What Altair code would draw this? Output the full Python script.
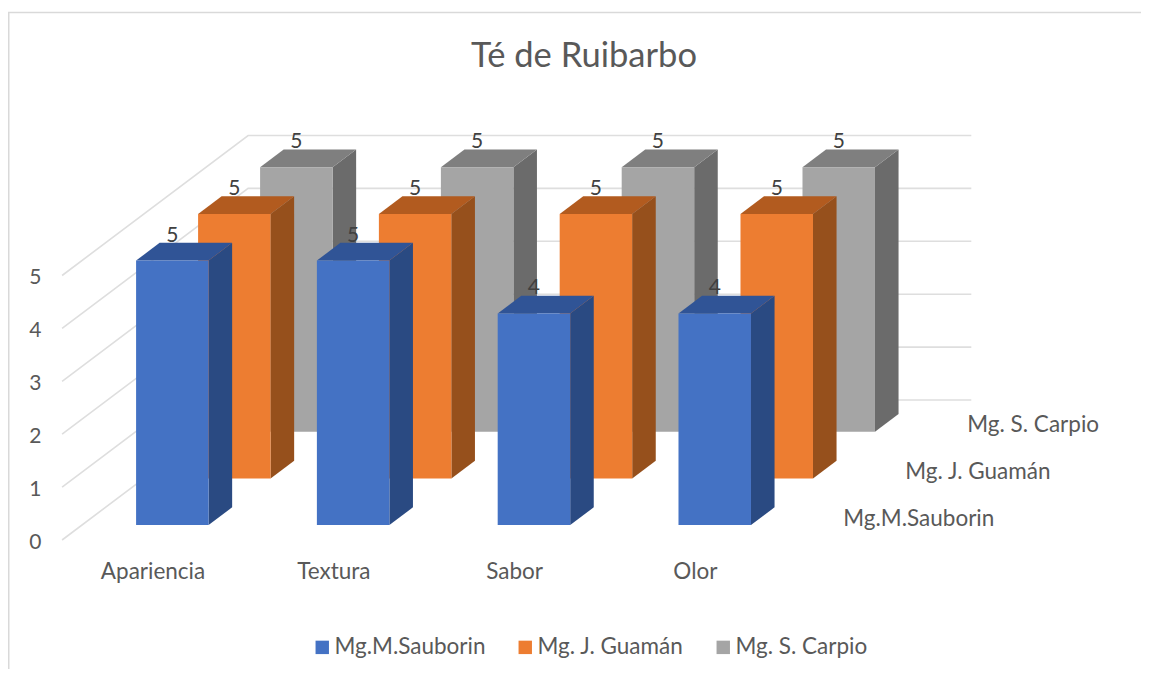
import altair as alt
import pandas as pd

# ---- chart values ----
categories = ["Apariencia", "Textura", "Sabor", "Olor"]
series = ["Mg.M.Sauborin", "Mg. J. Guamán", "Mg. S. Carpio"]
values_sauborin = [5, 5, 4, 4]
values_guaman = [5, 5, 5, 5]
values_carpio = [5, 5, 5, 5]
value_ticks = [0, 1, 2, 3, 4, 5]
front_colors = ["#4472C4", "#ED7D31", "#A5A5A5"]
side_colors = ["#2A4A82", "#96501C", "#6B6B6B"]
top_colors = ["#305496", "#B25B1F", "#7F7F7F"]
series_values = [values_sauborin, values_guaman, values_carpio]

# ---- oblique projection: depth z moves a point right and up ----
W, H = 1133, 661
PX_CAT, PX_VAL = 180.8, 52.9
ORIGIN_X, ORIGIN_Y = 152.5 - 8, 540.0 - 8
ZX, ZY = 62.0 / PX_CAT, 46.67 / PX_VAL
Z0, ZD, HW = 0.32, 0.38, 36.25 / PX_CAT


def px(c, z):
    return c + z * ZX


def py(v, z):
    return v + z * ZY


xs = alt.Scale(domain=[-ORIGIN_X / PX_CAT, (W - ORIGIN_X) / PX_CAT], range=[0, W], nice=False, zero=False)
ys = alt.Scale(domain=[(ORIGIN_Y - H) / PX_VAL, ORIGIN_Y / PX_VAL], range=[H, 0], nice=False, zero=False)
TEXT = "#595959"
FONT = "Lato"
x_axis = alt.Axis(
    title=None, values=[0, 1, 2, 3], grid=False, domain=False, ticks=False,
    labelExpr="['Apariencia','Textura','Sabor','Olor'][datum.value]",
    labelFontSize=22.5, labelColor=TEXT, labelFont=FONT, offset=-113,
    labelPadding=4, labelOverlap=False, labelBound=False, labelFlush=False,
)
y_axis = alt.Axis(
    title=None, values=value_ticks, grid=False, domain=False, ticks=False,
    labelFontSize=21, labelColor=TEXT, labelFont=FONT, offset=-34,
    labelPadding=1, labelOverlap=False, format="d", labelOffset=2,
)
X = alt.X("x:Q", scale=xs, axis=x_axis)
Y = alt.Y("y:Q", scale=ys, axis=y_axis)

# ---- gridlines ----
grid_rows = []
for v in value_ticks:
    for k, (c, z) in enumerate([(-0.5, 0), (-0.5, 3), (3.5, 3)]):
        grid_rows.append({"v": v, "k": k, "x": px(c, z), "y": py(v, z)})
grid = (
    alt.Chart(pd.DataFrame(grid_rows))
    .mark_line(color="#DEDEDE", strokeWidth=1.6)
    .encode(x=X, y=Y, detail="v:N", order="k:Q")
)

# ---- chart frame (top and left edges) ----
frame_top = alt.Chart(pd.DataFrame({"a": [0]})).mark_rule(color="#D9D9D9", strokeWidth=1.5).encode(
    x=alt.value(0), x2=alt.value(W), y=alt.value(4.5))
frame_left = alt.Chart(pd.DataFrame({"a": [0]})).mark_rule(color="#D9D9D9", strokeWidth=2).encode(
    x=alt.value(0.5), y=alt.value(4), y2=alt.value(H))

# ---- bars, back series first ----
layers = [grid, frame_top, frame_left]
color = alt.Color(
    "series:N",
    scale=alt.Scale(domain=series, range=front_colors),
    legend=alt.Legend(
        title=None, orient="none", legendX=303, legendY=628, direction="horizontal",
        symbolType="square", symbolSize=180, symbolStrokeWidth=0, labelFontSize=22.5,
        labelColor=TEXT, labelFont=FONT, labelOffset=1, columnPadding=28, padding=0,
        labelLimit=300,
    ),
)
for j in reversed(range(len(series))):
    z1 = Z0 + j
    z2 = z1 + ZD
    side, top, front = [], [], []
    for i, v in enumerate(series_values[j]):
        front.append({"series": series[j], "x": px(i, z1) - HW, "x2": px(i, z1) + HW,
                      "y": py(0, z1), "y2": py(v, z1)})
        for z in (z1, z2):
            side.append({"b": i, "x": px(i, z) + HW, "y": py(0, z), "y2": py(v, z)})
            top.append({"b": i, "y": py(v, z), "x": px(i, z) - HW, "x2": px(i, z) + HW})
    layers.append(
        alt.Chart(pd.DataFrame(side)).mark_area(color=side_colors[j], orient="vertical").encode(
            x=X, y=alt.Y("y:Q", scale=ys, axis=y_axis, stack=None), y2="y2:Q", detail="b:N")
    )
    layers.append(
        alt.Chart(pd.DataFrame(top)).mark_area(color=top_colors[j], orient="horizontal").encode(
            y=Y, x=alt.X("x:Q", scale=xs, axis=x_axis, stack=None), x2="x2:Q", detail="b:N")
    )
    layers.append(
        alt.Chart(pd.DataFrame(front)).mark_rect().encode(x=X, x2="x2:Q", y=Y, y2="y2:Q", color=color)
    )

# ---- data labels ----
label_rows = []
for j in range(len(series)):
    for i, v in enumerate(series_values[j]):
        label_rows.append({"x": px(i, Z0 + j), "y": py(v, Z0 + j), "t": str(v)})
layers.append(
    alt.Chart(pd.DataFrame(label_rows))
    .mark_text(fontSize=21, color="#404040", font=FONT, dy=-25, baseline="middle", align="center")
    .encode(x=X, y=Y, text="t:N")
)

# ---- depth-axis labels ----
depth_rows = [{"x": px(3.5, 0.5 + j), "y": py(0, 0.5 + j), "t": s} for j, s in enumerate(series)]
layers.append(
    alt.Chart(pd.DataFrame(depth_rows))
    .mark_text(fontSize=22.5, color=TEXT, font=FONT, dx=27, dy=2, align="left", baseline="middle")
    .encode(x=X, y=Y, text="t:N")
)

chart = alt.layer(*layers).properties(
    width=W,
    height=H,
    padding=0,
    autosize=alt.AutoSizeParams(type="none"),
    title=alt.TitleParams(
        "Té de Ruibarbo", fontSize=34.5, font=FONT, fontWeight="normal", color=TEXT,
        anchor="middle", frame="group", dx=9.5, offset=-93, baseline="alphabetic",
    ),
).configure_view(stroke=None)

chart.save("out.html", embed_options={"renderer": "svg", "actions": False})
